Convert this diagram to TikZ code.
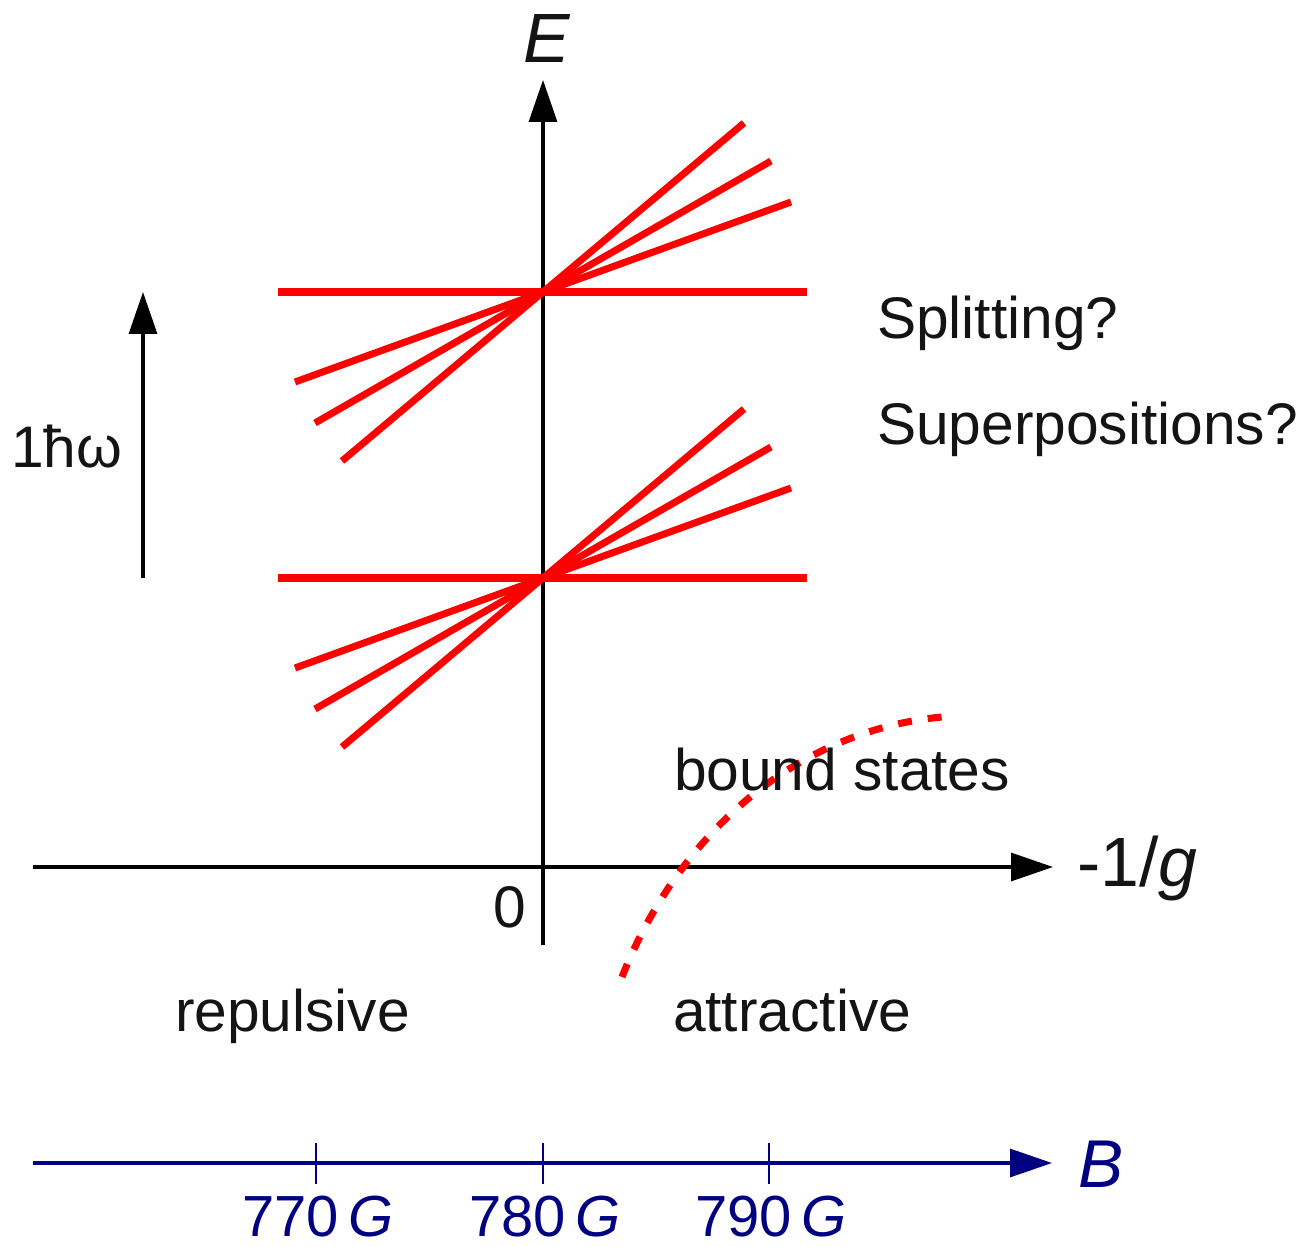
\documentclass[tikz,border=0pt]{standalone}
\usepackage{fontspec}
\setmainfont{Liberation Sans}
\usetikzlibrary{arrows.meta}
\definecolor{navyB}{RGB}{0,0,128}
\definecolor{txt}{RGB}{20,20,20}
\tikzset{
  axisline/.style={line width=1.8pt, -{Triangle[length=0.84cm,width=0.56cm]}},
  level/.style={red, line width=4pt},
  bound/.style={red, line width=4pt, dash pattern=on 0.28cm off 0.32cm},
  lbl/.style={inner sep=0pt, outer sep=0pt, text=txt, font=\fontsize{33.4}{38}\selectfont},
  biglbl/.style={inner sep=0pt, outer sep=0pt, text=txt, font=\fontsize{39.7}{44}\selectfont\itshape},
  ticklbl/.style={inner sep=0pt, outer sep=0pt, text=navyB, font=\fontsize{33}{38}\selectfont, anchor=base},
  tickmark/.style={navyB, line width=1.7pt}
}
\begin{document}
\begin{tikzpicture}[x=0.02cm,y=-0.02cm]
\useasboundingbox (0,0) rectangle (1306,1247);
% axes
\coordinate (Ebot) at (543,945);
\coordinate (Etop) at (543,80);
\coordinate (Xl) at (33,867);
\coordinate (Xr) at (1053,867);
\draw[axisline] (Ebot) -- (Etop);
\draw[axisline] (Xl) -- (Xr);
\node[biglbl, anchor=base] (Elab) at (547,63) {E};
\node[biglbl, anchor=base west] (glab) at (1077,886) {\upshape -1/\itshape g};
\node[lbl, anchor=base east] (zero) at (526,927) {0};
% hbar omega arrow
\coordinate (hwb) at (143,578);
\coordinate (hwt) at (143,292);
\draw[axisline] (hwb) -- (hwt);
\node[lbl, anchor=base west] (hw) at (11,467) {1ħω};
% red level lines
\foreach \yc in {292,578}{
  \draw[level] (278,\yc) -- (807,\yc);
  \draw[level] (543-201,\yc+169) -- (543+201,\yc-169);
  \draw[level] (543-228,\yc+131) -- (543+228,\yc-131);
  \draw[level] (543-248,\yc+90) -- (543+248,\yc-90);
}
% bound states curve
\coordinate (bs0) at (622,977);
\coordinate (bs1) at (942,717);
\draw[bound] (bs0) .. controls (680,830) and (800,730) .. (bs1);
% texts
\node[lbl, anchor=base west] (split) at (877,338) {Splitting?};
\node[lbl, anchor=base west] (super) at (877,444) {Superpositions?};
\node[lbl, anchor=base west] (bstates) at (674,790) {bound states};
\node[lbl, anchor=base west] (rep) at (175,1031) {repulsive};
\node[lbl, anchor=base west] (att) at (673,1031) {attractive};
% B axis
\coordinate (Bl) at (33,1163);
\coordinate (Br) at (1052,1163);
\draw[axisline, navyB] (Bl) -- (Br);
\node[biglbl, text=navyB, anchor=base west, font=\fontsize{38.5}{44}\selectfont\itshape] (Blab) at (1078,1187) {B};
\foreach \xt/\v in {316/770,543/780,769/790}{
  \draw[tickmark] (\xt,1143) -- (\xt,1184);
  \node[ticklbl] at (\xt+2,1236) {\v\,\itshape G};
}
\end{tikzpicture}
\end{document}
